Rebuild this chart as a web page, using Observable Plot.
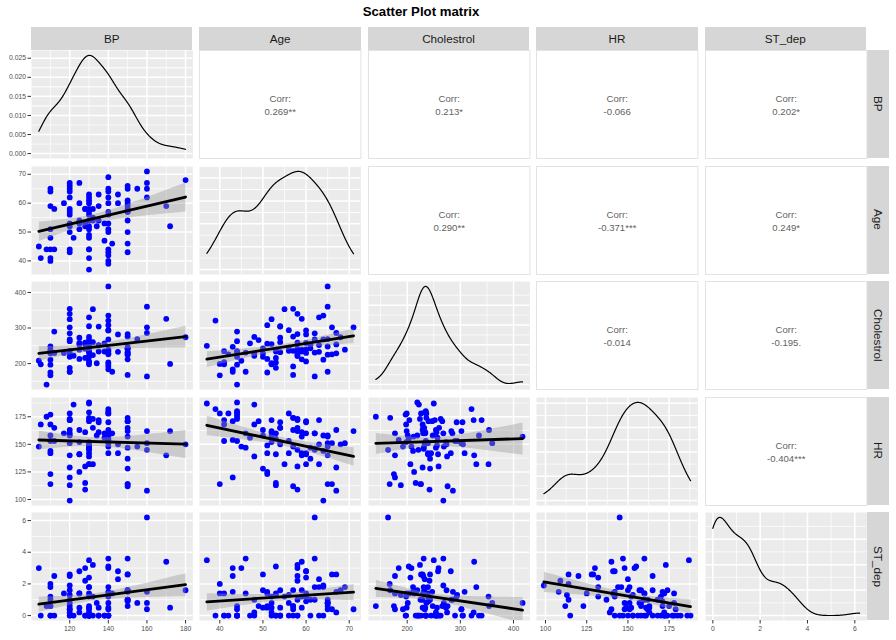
<!DOCTYPE html>
<html><head><meta charset="utf-8">
<script src="https://cdn.jsdelivr.net/npm/d3@7"></script>
<script src="https://cdn.jsdelivr.net/npm/@observablehq/plot@0.6"></script>
<style>
body{margin:0;background:#fff;font-family:"Liberation Sans",Arial,Helvetica,sans-serif;}
#root{position:relative;width:896px;height:640px;overflow:hidden;background:#fff;}
.strip{position:absolute;background:#d6d6d6;color:#1a1a1a;font-size:11.7px;display:flex;align-items:center;justify-content:center;box-sizing:border-box;}
.vstrip{writing-mode:vertical-rl;}
.title{position:absolute;left:0;width:842px;top:4px;text-align:center;font-weight:bold;font-size:13.2px;color:#000;}
svg{position:absolute;overflow:visible;}
</style></head><body><div id="root"></div>
<script>
// ---- data (one entry per patient) ----
const BP = [104,105,108,110,110,110,110,110,110,110,110,112,112,117,
120,120,120,120,120,120,120,120,120,120,120,120,120,122,125,125,125,125,128,128,128,
130,130,130,130,130,130,130,130,130,130,130,130,130,130,130,132,132,134,135,135,135,138,138,
140,140,140,140,140,140,140,140,140,140,140,140,140,140,140,142,145,145,
150,150,150,150,150,150,150,150,150,150,150,150,155,160,160,160,160,170,172,180,
128,132,130,125];
const Age = [45,41,44,65,64,59,51,48,44,41,40,58,44,60,
67,66,65,64,62,58,57,56,53,52,50,44,43,48,67,60,54,51,58,53,52,
37,41,44,48,49,51,52,54,56,58,60,61,62,63,44,55,58,52,59,54,63,47,53,
69,65,64,62,60,57,56,53,51,50,44,43,42,40,39,46,63,60,
66,65,61,60,59,58,57,54,50,46,43,57,65,71,67,65,62,59,52,68,
58,54,57,53];
const Cholestrol = [208,198,141,248,211,239,175,229,197,235,167,230,290,230,
229,302,177,268,285,340,354,236,188,325,219,263,177,222,254,258,273,213,242,216,255,
250,204,233,275,266,256,198,305,245,221,206,254,231,330,219,353,224,201,234,304,252,257,234,
239,417,335,268,293,192,294,203,308,229,235,184,226,199,321,177,233,282,
226,225,243,240,212,283,168,232,243,231,247,276,269,302,286,360,164,326,199,274,
259,260,236,239];
const HR = [148,168,175,158,144,142,123,168,177,153,114,165,153,160,
129,151,140,99,160,172,163,178,113,172,158,173,120,186,163,141,152,125,109,115,161,
187,172,179,139,171,149,152,150,142,145,132,147,146,132,188,132,173,158,161,170,172,156,160,
151,157,158,160,170,148,153,155,142,163,180,154,178,178,182,160,150,142,
114,114,137,171,157,162,174,165,128,147,171,112,148,162,108,151,145,140,162,150,
130,165,174,141];
const ST_dep = [3.0,0,0.6,0.6,1.8,1.2,0.6,1.0,0,0,2.0,2.5,0,1.4,
2.6,0.4,0.4,1.9,1.0,0,0.6,0.8,1.3,0.2,1.6,0,2.5,0,0.2,2.8,0.5,1.4,2.2,0,0,
3.5,1.4,0.4,0.2,0.6,0.5,1.2,0,0,0,2.4,0,1.8,1.8,0,1.2,3.2,0.8,0.5,0,0,0,0,
1.8,0.8,0,3.6,1.2,0.4,1.3,3.1,1.5,0.5,0,3.0,0,1.4,0,1.4,2.3,2.8,
2.6,1.0,1.0,0.9,1.6,1.0,1.6,1.6,2.6,3.6,1.5,0.6,0.8,0.4,1.5,0.8,6.2,3.4,0.5,1.6,
3.0,0,0,1.4];

// variables, tick labels, correlation labels
const variables = ["BP","Age","Cholestrol","HR","ST_dep"];
const BP_ticks = [120,140,160,180];
const Age_ticks = [40,50,60,70];
const Cholestrol_ticks = [200,300,400];
const HR_ticks = [100,125,150,175];
const ST_dep_ticks = [0,2,4,6];
const corrPairs = [["BP","Age"],["BP","Cholestrol"],["BP","HR"],["BP","ST_dep"],
  ["Age","Cholestrol"],["Age","HR"],["Age","ST_dep"],["Cholestrol","HR"],["Cholestrol","ST_dep"],["HR","ST_dep"]];
const corrText = ["0.269**","0.213*","-0.066","0.202*","0.290**","-0.371***","0.249*","-0.014","-0.195.","-0.404***"];
const titleText = "Scatter Plot matrix";

// ---- build ----
const cols = {BP, Age, Cholestrol, HR, ST_dep};
const tickSets = {BP: BP_ticks, Age: Age_ticks, Cholestrol: Cholestrol_ticks, HR: HR_ticks, ST_dep: ST_dep_ticks};
const data = BP.map((d, k) => ({BP: d, Age: Age[k], Cholestrol: Cholestrol[k], HR: HR[k], ST_dep: ST_dep[k]}));

const colLeft = [31, 199.4, 367.8, 536.2, 704.6];
const W = 161.4;
const rowTop = [50, 165.5, 281, 396.5, 512];
const H = 108;
const root = document.getElementById("root");
const FONT = '"Liberation Sans",Arial,Helvetica,sans-serif';

function expand([a, b]) { const r = b - a; return [a - 0.05 * r, b + 0.05 * r]; }
const domains = {};
for (const v of variables) domains[v] = expand(d3.extent(cols[v]));

function minors(ticks, dom) {
  const step = ticks[1] - ticks[0];
  const out = [];
  for (const t of ticks) out.push(t - step / 2, t + step / 2);
  return Array.from(new Set(out)).filter(t => t > dom[0] && t < dom[1] && !ticks.includes(t));
}
function inDom(ticks, dom) { return ticks.filter(t => t >= dom[0] && t <= dom[1]); }

function kde(vals) {
  const n = vals.length;
  const s = d3.sort(vals);
  const sd = d3.deviation(vals);
  const iqr = d3.quantile(s, 0.75) - d3.quantile(s, 0.25);
  const bw = 0.9 * Math.min(sd, iqr / 1.34) * Math.pow(n, -0.2);
  const [lo, hi] = d3.extent(vals);
  return d3.range(512).map(k => {
    const x = lo + (hi - lo) * k / 511;
    const y = d3.sum(vals, v => Math.exp(-0.5 * ((x - v) / bw) ** 2)) / (n * bw * Math.sqrt(2 * Math.PI));
    return {x, y};
  });
}

function gridMarks(xMaj, xMin, yMaj, yMin) {
  return [
    Plot.frame({fill: "#ebebeb", stroke: null}),
    Plot.ruleX(xMin, {stroke: "#fff", strokeWidth: 0.7}),
    Plot.ruleY(yMin, {stroke: "#fff", strokeWidth: 0.7}),
    Plot.ruleX(xMaj, {stroke: "#fff", strokeWidth: 1.5}),
    Plot.ruleY(yMaj, {stroke: "#fff", strokeWidth: 1.5})
  ];
}

function place(svg, left, top) {
  svg.style.left = left + "px";
  svg.style.top = top + "px";
  root.appendChild(svg);
}

// title
const t = document.createElement("div");
t.className = "title"; t.textContent = titleText; root.appendChild(t);

// strips
variables.forEach((v, j) => {
  const s = document.createElement("div");
  s.className = "strip"; s.textContent = v;
  s.style.left = colLeft[j] + "px"; s.style.top = "27px";
  s.style.width = W + "px"; s.style.height = "22.5px";
  root.appendChild(s);
  const r = document.createElement("div");
  r.className = "strip";
  const span = document.createElement("span"); span.className = "vstrip"; span.textContent = v;
  r.appendChild(span);
  r.style.left = "867px"; r.style.top = rowTop[j] + "px";
  r.style.width = "22px"; r.style.height = H + "px";
  root.appendChild(r);
});

for (let i = 0; i < 5; i++) {
  for (let j = 0; j < 5; j++) {
    const xv = variables[j], yv = variables[i];
    const ml = j === 0 ? 31 : 0, mb = i === 4 ? 20 : 0;
    const xd = domains[xv];
    const xMaj = inDom(tickSets[xv], xd), xMin = minors(tickSets[xv], xd);
    const common = {
      width: W + ml, height: H + mb,
      marginLeft: ml, marginRight: 0, marginTop: 0, marginBottom: mb,
      style: {background: "none", fontFamily: FONT, fontSize: "6.8px", color: "#4d4d4d"}
    };
    const xAxis = mb ? Plot.axisX(tickSets[xv], {tickSize: 3.5, tickPadding: 2, label: null, stroke: "#333", fill: "#4d4d4d"}) : null;
    let svg;
    if (j > i) {
      const k = corrPairs.findIndex(p => p[0] === yv && p[1] === xv);
      svg = Plot.plot({
        ...common,
        x: {domain: [0, 1], axis: null}, y: {domain: [0, 1], axis: null},
        marks: [
          Plot.frame({fill: "#fff", stroke: "#e3e3e3"}),
          Plot.text([corrText[k]], {x: 0.5, y: 0.5, text: d => "Corr:\n" + d, fontSize: 9.6, fill: "#5f5f5f", lineHeight: 1.32, fontFamily: FONT})
        ]
      });
    } else if (i === j) {
      const dens = kde(cols[xv]);
      const mx = d3.max(dens, d => d.y);
      const yd = [-0.05 * mx, 1.05 * mx];
      const yT = d3.ticks(0, mx, 5);
      const yMaj = inDom(yT, yd), yMin = minors(yT, yd);
      svg = Plot.plot({
        ...common,
        x: {domain: xd, axis: null}, y: {domain: yd, axis: null},
        marks: [
          ...gridMarks(xMaj, xMin, yMaj, yMin),
          Plot.line(dens, {x: "x", y: "y", stroke: "#000", strokeWidth: 1.2}),
          ml ? Plot.axisY(yT, {tickSize: 3.5, tickPadding: 2, label: null, tickFormat: d3.format(".3f"), stroke: "#333", fill: "#4d4d4d"}) : null,
          xAxis
        ]
      });
    } else {
      const yd = domains[yv];
      const yMaj = inDom(tickSets[yv], yd), yMin = minors(tickSets[yv], yd);
      svg = Plot.plot({
        ...common,
        x: {domain: xd, axis: null}, y: {domain: yd, axis: null},
        marks: [
          ...gridMarks(xMaj, xMin, yMaj, yMin),
          Plot.dot(data, {x: xv, y: yv, r: 2.9, fill: "#0000ff", stroke: null}),
          Plot.linearRegressionY(data, {x: xv, y: yv, stroke: "#000", strokeWidth: 2.8, fill: "#999999", fillOpacity: 0.4, clip: true}),
          ml ? Plot.axisY(tickSets[yv], {tickSize: 3.5, tickPadding: 2, label: null, stroke: "#333", fill: "#4d4d4d"}) : null,
          xAxis
        ]
      });
    }
    place(svg, colLeft[j] - ml, rowTop[i]);
  }
}
</script></body></html>
